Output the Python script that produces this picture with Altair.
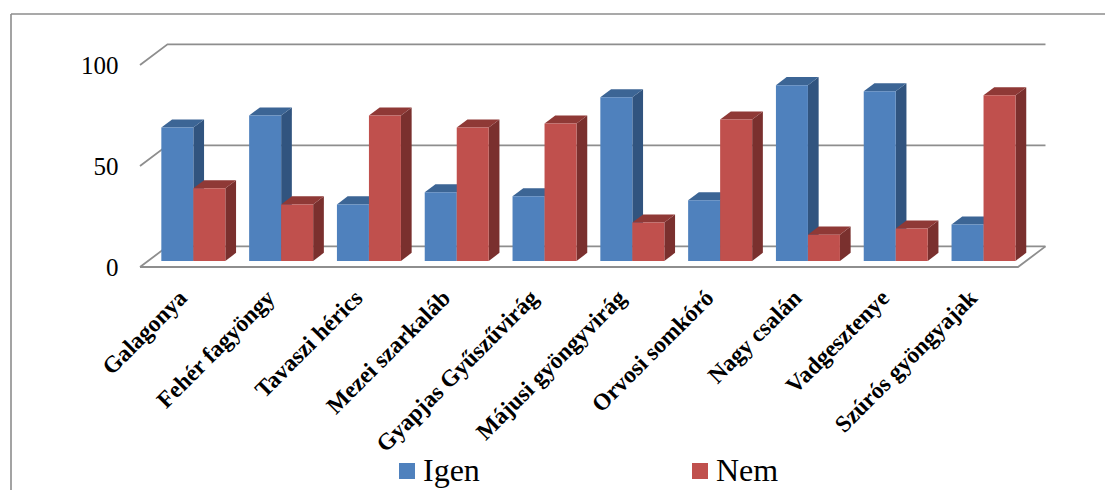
import json

import altair as alt
import pandas as pd

categories = [
    "Galagonya", "Fehér fagyöngy", "Tavaszi hérics", "Mezei szarkaláb",
    "Gyapjas Gyűszűvirág", "Májusi gyöngyvirág", "Orvosi somkóró",
    "Nagy csalán", "Vadgesztenye", "Szúrós gyöngyajak",
]
igen = [66, 72, 28, 34, 32, 81, 30, 87, 84, 18]
nem = [36, 28, 72, 66, 68, 19, 70, 13, 16, 82]
y_ticks = [0, 50, 100]

SERIES = {
    "Igen": {"values": igen, "front": "#4f81bd", "side": "#31547f", "top": "#3c6595"},
    "Nem": {"values": nem, "front": "#c0504d", "side": "#7a302e", "top": "#8f3936"},
}

# Oblique projection: how far the box walls and the bars recede, in axis units.
WALL_DX, WALL_DY = 0.313, 10.2
BAR_DX, BAR_DY = 0.122, 4.0
BAR_LIFT = 3.0
BAR_START, BAR_WIDTH = 0.243, 0.3645

x_scale = alt.Scale(domain=[0, 10], nice=False, zero=False)
y_scale = alt.Scale(domain=[0, 100], nice=False, zero=False)
names = json.dumps(categories, ensure_ascii=False)

x_axis = alt.Axis(
    values=[i + 0.5 for i in range(len(categories))],
    labelExpr=f"{names}[floor(datum.value)]",
    labelAngle=315, labelAlign="right", labelBaseline="middle",
    labelFont="Liberation Serif", labelFontWeight="bold", labelFontSize=23.5,
    labelColor="#000000", labelPadding=27, labelOffset=-1, labelOverlap=False,
    labelFlush=False, labelBound=False, labelLimit=400, domain=False, ticks=False,
    grid=False, title=None,
)
y_axis = alt.Axis(
    values=y_ticks, labelFont="Liberation Serif", labelFontSize=25,
    labelColor="#000000", labelPadding=22, domain=False, ticks=False,
    grid=False, title=None,
)

# Box outline: the back-wall gridlines with their diagonals, plus the floor's front edge.
wall_rows = []
for v in y_ticks:
    wall_rows += [
        {"line": f"w{v}", "x": 0, "y": v, "o": 0},
        {"line": f"w{v}", "x": WALL_DX, "y": v + WALL_DY, "o": 1},
        {"line": f"w{v}", "x": 10 + WALL_DX, "y": v + WALL_DY, "o": 2},
    ]
wall_rows += [
    {"line": "floor", "x": 0, "y": 0, "o": 0},
    {"line": "floor", "x": 10, "y": 0, "o": 1},
    {"line": "floor", "x": 10 + WALL_DX, "y": WALL_DY, "o": 2},
]
walls = alt.Chart(pd.DataFrame(wall_rows)).mark_line(
    color="#8e8e8e", strokeWidth=1.8
).encode(
    x=alt.X("x:Q", scale=x_scale, axis=x_axis),
    y=alt.Y("y:Q", scale=y_scale, axis=y_axis),
    detail="line:N",
    order="o:Q",
)

color_scale = alt.Scale(domain=list(SERIES), range=[s["front"] for s in SERIES.values()])
legend = alt.Legend(
    title=None, orient="none", legendX=251, legendY=390, direction="horizontal",
    columns=2, columnPadding=204, symbolType="square", symbolSize=256,
    symbolStrokeWidth=0, labelFont="Liberation Serif", labelFontSize=32,
    labelColor="#000000", labelOffset=0, rowPadding=0,
)

layers = [walls]
for name, style in SERIES.items():
    offset = 0 if name == "Igen" else BAR_WIDTH
    front, side, top = [], [], []
    for i, value in enumerate(style["values"]):
        left = i + BAR_START + offset
        right = left + BAR_WIDTH
        low, high = BAR_LIFT, value + BAR_LIFT
        front.append({"series": name, "x": left, "x2": right, "y": low, "y2": high})
        side += [
            {"bar": i, "x": right, "y": low, "y2": high},
            {"bar": i, "x": right + BAR_DX, "y": low + BAR_DY, "y2": high + BAR_DY},
        ]
        top += [
            {"bar": i, "x": left, "y": high, "y2": high},
            {"bar": i, "x": left + BAR_DX, "y": high + BAR_DY, "y2": high},
            {"bar": i, "x": right, "y": high + BAR_DY, "y2": high},
            {"bar": i, "x": right + BAR_DX, "y": high + BAR_DY, "y2": high + BAR_DY},
        ]
    for rows, shade in ((side, style["side"]), (top, style["top"])):
        layers.append(
            alt.Chart(pd.DataFrame(rows)).mark_area(color=shade, interpolate="linear").encode(
                x=alt.X("x:Q", scale=x_scale),
                y=alt.Y("y:Q", scale=y_scale, stack=None),
                y2="y2:Q",
                detail="bar:N",
            )
        )
    layers.append(
        alt.Chart(pd.DataFrame(front)).mark_bar().encode(
            x=alt.X("x:Q", scale=x_scale),
            x2="x2:Q",
            y=alt.Y("y:Q", scale=y_scale),
            y2="y2:Q",
            color=alt.Color("series:N", scale=color_scale, legend=legend),
        )
    )

# Outer chart frame, open on the right and at the bottom.
frame_left = alt.Chart(pd.DataFrame({"k": [0]})).mark_rule(color="#8c8c8c", strokeWidth=1.6).encode(
    x=alt.value(-129), y=alt.value(-51), y2=alt.value(425)
)
frame_top = alt.Chart(pd.DataFrame({"k": [0]})).mark_rule(color="#8c8c8c", strokeWidth=1.6).encode(
    y=alt.value(-51), x=alt.value(-129), x2=alt.value(965)
)

chart = alt.layer(frame_left, frame_top, *layers).properties(
    width=878,
    height=202,
    padding={"left": 140, "top": 65, "right": 87, "bottom": 223},
    autosize=alt.AutoSizeParams(type="none"),
    background="#ffffff",
).configure_view(stroke=None)

chart.save("out.html", embed_options={"renderer": "svg", "actions": False})
